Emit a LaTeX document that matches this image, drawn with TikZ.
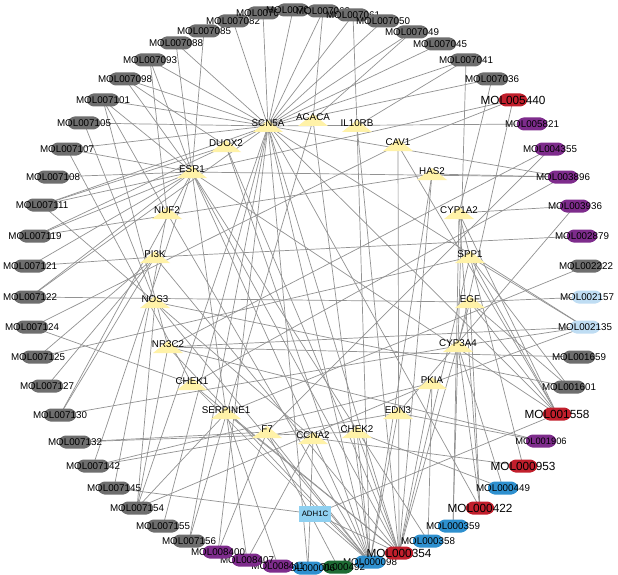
\documentclass[tikz,border=0pt]{standalone}
\usepackage{fontspec}
\setmainfont{Liberation Sans}
\definecolor{cgray}{HTML}{6E6E6E}
\definecolor{cred}{HTML}{C21F2C}
\definecolor{cpurple}{HTML}{7E2C8C}
\definecolor{clblue}{HTML}{BFDDF3}
\definecolor{cblue}{HTML}{2E90CF}
\definecolor{cgreen}{HTML}{1E6B34}
\definecolor{genefill}{HTML}{FFF2A8}
\definecolor{boxfill}{HTML}{8FD0F0}
\definecolor{edgecol}{HTML}{929292}
\pgfdeclarelayer{bg}
\pgfsetlayers{bg,main}
\tikzset{
  mol/.style 2 args={rectangle, minimum width=#2, minimum height=13pt, inner sep=0pt, draw=none,
    path picture={\fill[#1, rounded corners=1.5pt]
      ([xshift=5pt]path picture bounding box.north west) -- ([xshift=-5pt]path picture bounding box.north east)
      -- ([yshift=-3.5pt]path picture bounding box.north east) -- ([yshift=3.5pt]path picture bounding box.south east)
      -- ([xshift=-5pt]path picture bounding box.south east) -- ([xshift=5pt]path picture bounding box.south west)
      -- ([yshift=3.5pt]path picture bounding box.south west) -- ([yshift=-3.5pt]path picture bounding box.north west) -- cycle;}},
  mlab/.style={font=\fontsize{9.8}{10}\selectfont, text=black, inner sep=0pt},
  mbig/.style={font=\fontsize{11.8}{12}\selectfont, text=black, inner sep=0pt},
  msmall/.style={font=\fontsize{9.3}{10}\selectfont, text=black, inner sep=0pt},
  gene/.style={minimum width=30pt, minimum height=12pt, inner sep=0pt, draw=none,
    path picture={\fill[genefill] (path picture bounding box.south west) -- (path picture bounding box.south east) -- (path picture bounding box.north) -- cycle;}},
  glab/.style={font=\fontsize{9.8}{10}\selectfont, text=black, inner sep=0pt, yshift=2.5pt},
  adhbox/.style={rectangle, fill=boxfill, minimum width=32pt, minimum height=16pt, inner sep=0pt, font=\fontsize{7.8}{8}\selectfont},
  edge/.style={draw=edgecol, line width=0.7pt}
}
\newcommand{\molnode}[5]{\node[mol={#3}{#5},label={[#4]center:MOL#1}] (m#1) at (#2) {};}
\newcommand{\genenode}[2]{\node[gene,label={[glab]center:#1}] (#1) at (#2) {};}
\begin{document}
\begin{tikzpicture}[x=1pt,y=-1pt]
\useasboundingbox (0,0) rectangle (618,575);
\begin{pgfonlayer}{bg}
\fill[white] (0,0) rectangle (618,575);
\end{pgfonlayer}
% genes
\genenode{SCN5A}{268,126}
\genenode{ACACA}{313,120}
\genenode{IL10RB}{357,126}
\genenode{DUOX2}{226,146}
\genenode{CAV1}{398,145}
\genenode{ESR1}{192,172}
\genenode{HAS2}{432,174}
\genenode{NUF2}{167,213}
\genenode{CYP1A2}{459,213}
\genenode{PI3K}{155,257}
\genenode{SPP1}{470,257}
\genenode{NOS3}{155,302}
\genenode{EGF}{470,302}
\genenode{NR3C2}{168,347}
\genenode{CYP3A4}{458,346}
\genenode{CHEK1}{192,384}
\genenode{PKIA}{432,383}
\genenode{SERPINE1}{226,413}
\genenode{EDN3}{398,413}
\genenode{F7}{267,432}
\genenode{CCNA2}{313,438}
\genenode{CHEK2}{357,432}
\node[adhbox] (ADH1C) at (315,514) {ADH1C};
% molecules
\molnode{007085}{204,31}{cgray}{mlab}{32pt}
\molnode{007082}{233,21}{cgray}{mlab}{32pt}
\molnode{007070}{263,13}{cgray}{mlab}{32pt}
\molnode{007066}{293,10}{cgray}{mlab}{32pt}
\molnode{007063}{323,11}{cgray}{mlab}{32pt}
\molnode{007061}{353,15}{cgray}{mlab}{32pt}
\molnode{007050}{383,21}{cgray}{mlab}{32pt}
\molnode{007049}{412,32}{cgray}{mlab}{32pt}
\molnode{007045}{440,44}{cgray}{mlab}{32pt}
\molnode{007041}{466,60}{cgray}{mlab}{32pt}
\molnode{007036}{492,79}{cgray}{mlab}{32pt}
\molnode{005440}{513,100}{cred}{mbig}{28pt}
\molnode{005821}{532,124}{cpurple}{mlab}{30pt}
\molnode{004355}{550,149}{cpurple}{mlab}{30pt}
\molnode{003896}{563,177}{cpurple}{mlab}{30pt}
\molnode{003936}{575,206}{cpurple}{mlab}{30pt}
\molnode{002879}{582,236}{cpurple}{mlab}{30pt}
\molnode{002222}{586,266}{cgray}{mlab}{32pt}
\molnode{002157}{587,297}{clblue}{mlab}{30pt}
\molnode{002135}{585,327}{clblue}{mlab}{30pt}
\molnode{001659}{579,357}{cgray}{mlab}{32pt}
\molnode{001601}{569,387}{cgray}{mlab}{32pt}
\molnode{001558}{557,414}{cred}{mbig}{28pt}
\molnode{001906}{541,441}{cpurple}{msmall}{30pt}
\molnode{000953}{523,466}{cred}{mbig}{28pt}
\molnode{000449}{503,488}{cblue}{mlab}{30pt}
\molnode{000422}{480,508}{cred}{mbig}{28pt}
\molnode{000359}{453,526}{cblue}{mlab}{30pt}
\molnode{000358}{428,541}{cblue}{mlab}{30pt}
\molnode{000098}{370,562}{cblue}{mlab}{30pt}
\molnode{000492}{338,567}{cgreen}{mlab}{30pt}
\molnode{000006}{308,568}{cblue}{mlab}{30pt}
\molnode{008411}{278,566}{cpurple}{mlab}{30pt}
\molnode{008407}{247,560}{cpurple}{mlab}{30pt}
\molnode{008400}{218,552}{cpurple}{mlab}{30pt}
\molnode{000354}{399,553}{cred}{mbig}{28pt}
\molnode{007156}{189,541}{cgray}{mlab}{32pt}
\molnode{007155}{163,526}{cgray}{mlab}{32pt}
\molnode{007154}{137,508}{cgray}{mlab}{32pt}
\molnode{007145}{114,488}{cgray}{mlab}{32pt}
\molnode{007142}{93,466}{cgray}{mlab}{32pt}
\molnode{007132}{75,442}{cgray}{mlab}{32pt}
\molnode{007130}{60,415}{cgray}{mlab}{32pt}
\molnode{007127}{47,386}{cgray}{mlab}{32pt}
\molnode{007125}{38,357}{cgray}{mlab}{32pt}
\molnode{007124}{32,327}{cgray}{mlab}{32pt}
\molnode{007122}{30,297}{cgray}{mlab}{32pt}
\molnode{007121}{30,266}{cgray}{mlab}{32pt}
\molnode{007119}{35,236}{cgray}{mlab}{32pt}
\molnode{007111}{42,205}{cgray}{mlab}{32pt}
\molnode{007108}{53,177}{cgray}{mlab}{32pt}
\molnode{007107}{67,149}{cgray}{mlab}{32pt}
\molnode{007105}{84,123}{cgray}{mlab}{32pt}
\molnode{007101}{103,100}{cgray}{mlab}{32pt}
\molnode{007098}{125,79}{cgray}{mlab}{32pt}
\molnode{007093}{150,60}{cgray}{mlab}{32pt}
\molnode{007088}{176,43}{cgray}{mlab}{32pt}
% edges
\begin{pgfonlayer}{bg}
\foreach \m in {007082,007070,007066,007063,007061,007050,007049,007045,007041,007036,007088,007093,007098,007101,007105,007107,007111,007119,007122,005821,000354,000098,007154,007156,007155,008400,000422,001558,003896,002135,000006}
  \draw[edge] (SCN5A.center) -- (m\m.center);
\foreach \m in {007085,007088,007093,007098,007101,007107,007108,007111,007119,007121,007122,003896,005440,000354,000098,007142,001558,007130,008407,000358}
  \draw[edge] (ESR1.center) -- (m\m.center);
\foreach \g/\m in {DUOX2/007098,DUOX2/007111,DUOX2/000354,DUOX2/000098,
  ACACA/007049,ACACA/007156,ACACA/000098,ACACA/007063,
  IL10RB/007041,IL10RB/000354,IL10RB/000098,IL10RB/007061,
  CAV1/005440,CAV1/007124,CAV1/000354,CAV1/001558,
  HAS2/003896,HAS2/007119,HAS2/000354,HAS2/000098,
  NUF2/007093,NUF2/007145,NUF2/000098,NUF2/007101,
  CYP1A2/007036,CYP1A2/001558,CYP1A2/000422,CYP1A2/000953,CYP1A2/003936,CYP1A2/000359,
  PI3K/007121,PI3K/007127,PI3K/007125,PI3K/000354,PI3K/002879,PI3K/007130,
  SPP1/002135,SPP1/007125,SPP1/000354,SPP1/001558,SPP1/001601,
  NOS3/007105,NOS3/007154,NOS3/000098,NOS3/001601,
  EGF/002157,EGF/001558,EGF/001601,EGF/000354,EGF/007122,EGF/000422,
  NR3C2/001659,NR3C2/007154,NR3C2/002135,NR3C2/007101,NR3C2/000098,NR3C2/004355,NR3C2/001906,
  CYP3A4/002135,CYP3A4/007130,CYP3A4/000422,CYP3A4/000449,CYP3A4/000359,CYP3A4/005440,CYP3A4/007041,
  CHEK1/007124,CHEK1/000354,CHEK1/000098,CHEK1/003896,CHEK1/007107,
  PKIA/002135,PKIA/007154,PKIA/000354,PKIA/000358,PKIA/007142,
  SERPINE1/007154,SERPINE1/000354,SERPINE1/002222,SERPINE1/008411,
  EDN3/007142,EDN3/000098,EDN3/001906,EDN3/003936,
  F7/007132,F7/008400,F7/000098,F7/004355,F7/000492,
  CCNA2/008407,CCNA2/000006,CCNA2/000953,CCNA2/007111,
  CHEK2/007132,CHEK2/000098,CHEK2/000354,CHEK2/000449,
  ADH1C/000098,ADH1C/000354,ADH1C/001558,ADH1C/007145}
  \draw[edge] (\g.center) -- (m\m.center);
\end{pgfonlayer}
\end{tikzpicture}
\end{document}
